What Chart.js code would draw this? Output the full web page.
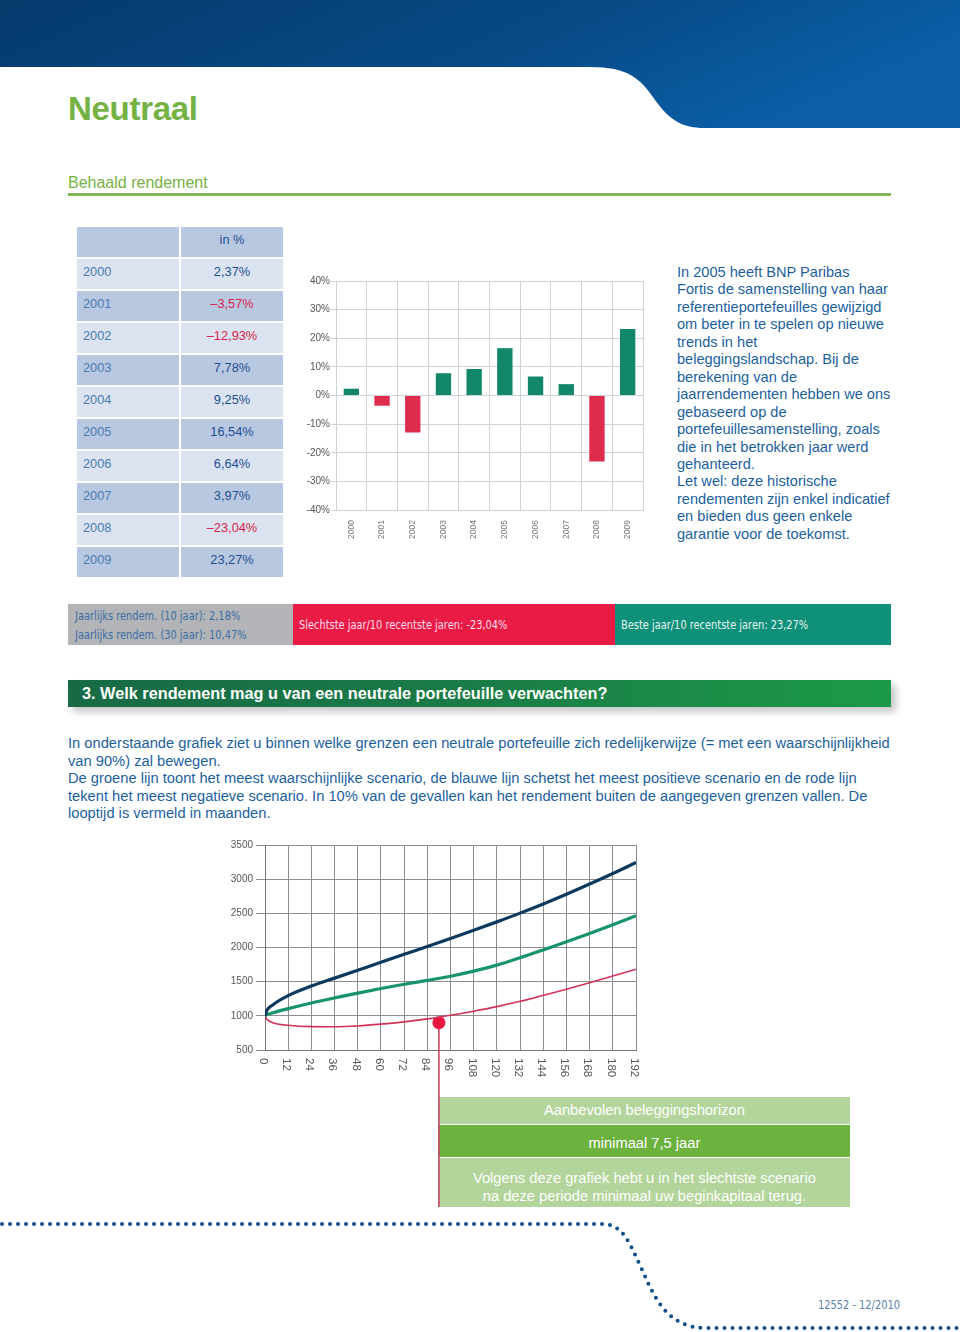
<!DOCTYPE html>
<html lang="nl">
<head>
<meta charset="utf-8">
<title>Neutraal</title>
<script src="https://cdn.jsdelivr.net/npm/chart.js@4/dist/chart.umd.min.js"></script>
<style>
  html, body { margin: 0; padding: 0; background: #fff; }
  body { width: 960px; height: 1332px; position: relative; overflow: hidden; font-family: "Liberation Sans", Arial, Helvetica, sans-serif; }
  .abs { position: absolute; }
  .narrow { font-family: "Liberation Sans Narrow", "DejaVu Sans Condensed", "Liberation Sans", sans-serif; font-stretch: condensed; }
  .sq { display: inline-block; transform: scaleX(0.875); transform-origin: left center; white-space: nowrap; }
  #title { left: 68px; top: 90px; font-size: 33px; font-weight: bold; color: #74b243; letter-spacing: -0.3px; }
  #subtitle { left: 68px; top: 174px; font-size: 16px; color: #74b243; }
  #rule { left: 68px; top: 193px; width: 823px; height: 2.5px; background: #7cb85a; }
  #table { left: 77px; top: 227px; width: 206px; }
  .row { display: flex; height: 30px; margin-bottom: 2px; font-size: 12.8px; }
  .row div { height: 30px; line-height: 25px; }
  .row .y { width: 96px; padding-left: 6px; margin-right: 2px; color: #4a7bb2; }
  .row .v { width: 102px; text-align: center; color: #1c4f91; }
  .row .v.neg { color: #d8234a; }
  .dark div { background: #b9c8e1; }
  .light div { background: #dbe3f0; }
  #barWrap { left: 300px; top: 270px; width: 350px; height: 280px; }
  #note { left: 677px; top: 264px; font-size: 14.6px; line-height: 17.45px; color: #1b5f9e; white-space: nowrap; }
  #stats { left: 68px; top: 604px; height: 41px; display: flex; width: 823px; font-size: 12.5px; }
  #stats > div { height: 41px; box-sizing: border-box; overflow: hidden; }
  #s1 { width: 225px; background: #b2b4b7; color: #3b6ea6; padding: 2px 0 0 7px; line-height: 19px; }
  #s2 { width: 322px; background: #ea1b44; color: #fde; padding-left: 6px; line-height: 41px; }
  #s3 { width: 276px; background: #0e9079; color: #e6f4f0; padding-left: 6px; line-height: 41px; }
  #heading { left: 68px; top: 680px; width: 823px; height: 27px; background: linear-gradient(90deg, #176a45 0%, #1a7c47 50%, #1c9a48 100%); box-shadow: 5px 5px 7px rgba(0,0,0,0.22); color: #fff; font-weight: bold; font-size: 16.3px; line-height: 27px; box-sizing: border-box; padding-left: 14px; }
  #intro { left: 68px; top: 735px; font-size: 14.7px; line-height: 17.5px; color: #1b5f9e; white-space: nowrap; }
  #lineWrap { left: 220px; top: 835px; width: 430px; height: 375px; z-index: 2; }
  #boxes { left: 439px; top: 1097px; width: 411px; color: #fff; font-size: 14.7px; text-align: center; z-index: 1; }
  #boxes .b1 { height: 27px; line-height: 27px; background: #b3d59b; margin-bottom: 1px; }
  #boxes .b2 { height: 32px; line-height: 36px; background: #6cb23f; margin-bottom: 1px; }
  #boxes .b3 { height: 49px; background: #b3d59b; line-height: 17.5px; padding-top: 12px; box-sizing: border-box; }
  #code { left: 818px; top: 1297px; font-size: 12.5px; color: #5a7fa8; }
</style>
</head>
<body>
<svg class="abs" style="left:0;top:0" width="960" height="135" viewBox="0 0 960 135">
  <defs>
    <linearGradient id="hdr" x1="0" y1="0" x2="1" y2="0.3">
      <stop offset="0" stop-color="#053a6c"/>
      <stop offset="0.6" stop-color="#074a86"/>
      <stop offset="1" stop-color="#0a5fa6"/>
    </linearGradient>
  </defs>
  <path d="M0,0 H960 V128 H705 C680,128 668,118 655,100 C640,78 628,67 590,67 H0 Z" fill="url(#hdr)"/>
</svg>
<div id="title" class="abs">Neutraal</div>
<div id="subtitle" class="abs">Behaald rendement</div>
<div id="rule" class="abs"></div>

<div id="table" class="abs"></div>

<div id="barWrap" class="abs"><canvas id="bars" width="350" height="280"></canvas></div>

<div id="note" class="abs">In 2005 heeft BNP Paribas<br>Fortis de samenstelling van haar<br>referentieportefeuilles gewijzigd<br>om beter in te spelen op nieuwe<br>trends in het<br>beleggingslandschap. Bij de<br>berekening van de<br>jaarrendementen hebben we ons<br>gebaseerd op de<br>portefeuillesamenstelling, zoals<br>die in het betrokken jaar werd<br>gehanteerd.<br>Let wel: deze historische<br>rendementen zijn enkel indicatief<br>en bieden dus geen enkele<br>garantie voor de toekomst.</div>

<div id="stats" class="abs narrow">
  <div id="s1"><span class="sq">Jaarlijks rendem. (10 jaar): 2,18%</span><br><span class="sq">Jaarlijks rendem. (30 jaar): 10,47%</span></div>
  <div id="s2"><span class="sq">Slechtste jaar/10 recentste jaren: -23,04%</span></div>
  <div id="s3"><span class="sq">Beste jaar/10 recentste jaren: 23,27%</span></div>
</div>

<div id="heading" class="abs">3. Welk rendement mag u van een neutrale portefeuille verwachten?</div>

<div id="intro" class="abs">In onderstaande grafiek ziet u binnen welke grenzen een neutrale portefeuille zich redelijkerwijze (= met een waarschijnlijkheid<br>van 90%) zal bewegen.<br>De groene lijn toont het meest waarschijnlijke scenario, de blauwe lijn schetst het meest positieve scenario en de rode lijn<br>tekent het meest negatieve scenario. In 10% van de gevallen kan het rendement buiten de aangegeven grenzen vallen. De<br>looptijd is vermeld in maanden.</div>

<div id="lineWrap" class="abs"><canvas id="lines" width="430" height="375"></canvas></div>

<div id="boxes" class="abs">
  <div class="b1">Aanbevolen beleggingshorizon</div>
  <div class="b2">minimaal 7,5 jaar</div>
  <div class="b3">Volgens deze grafiek hebt u in het slechtste scenario<br>na deze periode minimaal uw beginkapitaal terug.</div>
</div>

<svg class="abs" style="left:0;top:1215px" width="960" height="117" viewBox="0 1215 960 117">
  <path d="M2,1224 H602 C622,1224 628,1240 640,1265 C652,1292 662,1318 690,1326 C695,1327.5 700,1328 706,1328 H960" fill="none" stroke="#0d4e8b" stroke-width="4" stroke-linecap="round" stroke-dasharray="0 8"/>
</svg>
<div id="code" class="abs narrow"><span class="sq">12552 - 12/2010</span></div>

<script>
// jaarrendementen (in %)
const years = ['2000', '2001', '2002', '2003', '2004', '2005', '2006', '2007', '2008', '2009'];
const returns = [2.37, -3.57, -12.93, 7.78, 9.25, 16.54, 6.64, 3.97, -23.04, 23.27];
const pctTicks = [-40, -30, -20, -10, 0, 10, 20, 30, 40];

// scenario's, looptijd in maanden
const months = [0, 1, 4, 12, 24, 36, 48, 60, 72, 84, 96, 108, 120, 132, 144, 156, 168, 180, 192];
const bestCase = [1000, 1080, 1160, 1295, 1435, 1552, 1668, 1783, 1900, 2015, 2132, 2252, 2375, 2503, 2638, 2780, 2928, 3082, 3244];
const expected = [1000, 1018, 1045, 1105, 1188, 1262, 1332, 1400, 1462, 1518, 1580, 1655, 1742, 1850, 1965, 2083, 2205, 2332, 2463];
const worstCase = [1000, 950, 900, 862, 842, 840, 852, 878, 912, 955, 1008, 1068, 1135, 1212, 1300, 1390, 1485, 1583, 1683];
const monthTicks = [0, 12, 24, 36, 48, 60, 72, 84, 96, 108, 120, 132, 144, 156, 168, 180, 192];
const valueTicks = [500, 1000, 1500, 2000, 2500, 3000, 3500];
const horizonMonths = 90;
const horizonValue = 900;

const GREEN = '#12876a';
const RED = '#de2c4c';
const tickFont = { family: '"Liberation Sans", Arial, sans-serif', size: 10 };

const fmtPct = (v) => (v < 0 ? '\u2013' : '') + Math.abs(v).toFixed(2).replace('.', ',') + '%';

function buildTable() {
  const t = document.getElementById('table');
  let html = '<div class="row dark"><div class="y"></div><div class="v">in %</div></div>';
  years.forEach((y, i) => {
    const cls = i % 2 === 0 ? 'light' : 'dark';
    const neg = returns[i] < 0 ? ' neg' : '';
    html += `<div class="row ${cls}"><div class="y">${y}</div><div class="v${neg}">${fmtPct(returns[i])}</div></div>`;
  });
  t.innerHTML = html;
}

function buildBars() {
  new Chart(document.getElementById('bars'), {
    type: 'bar',
    data: {
      labels: years,
      datasets: [{
        data: returns,
        backgroundColor: returns.map(v => v < 0 ? RED : GREEN),
        borderWidth: 0,
        categoryPercentage: 1,
        barPercentage: 0.5,
      }]
    },
    options: {
      responsive: false,
      animation: false,
      layout: { padding: { top: 11, right: 7, left: 0, bottom: 0 } },
      plugins: { legend: { display: false }, tooltip: { enabled: false } },
      scales: {
        x: {
          grid: { color: '#cad4da', drawTicks: false, offset: true },
          border: { color: '#cad4da' },
          ticks: { color: '#777', font: { family: tickFont.family, size: 8.5 }, minRotation: 90, maxRotation: 90, padding: 10 },
          afterFit(scale) { scale.height = 40; },
        },
        y: {
          min: -40, max: 40,
          afterBuildTicks(scale) { scale.ticks = pctTicks.map(v => ({ value: v })); },
          grid: { color: '#cad4da', tickLength: 5 },
          border: { color: '#cad4da' },
          ticks: { color: '#555', font: tickFont, padding: 1, callback: v => v + '%' },
          afterFit(scale) { scale.width = 36; },
        }
      }
    }
  });
}

const monthLabels = {
  id: 'monthLabels',
  afterDraw(chart) {
    const { ctx, scales: { x, y } } = chart;
    ctx.save();
    ctx.fillStyle = '#555';
    ctx.font = '11.5px "Liberation Sans", Arial, sans-serif';
    ctx.textAlign = 'left';
    ctx.textBaseline = 'middle';
    monthTicks.forEach(m => {
      ctx.save();
      ctx.translate(x.getPixelForValue(m) - 2, y.bottom + 8);
      ctx.rotate(Math.PI / 2);
      ctx.fillText(String(m), 0, 0);
      ctx.restore();
    });
    ctx.restore();
  }
};

const horizonLine = {
  id: 'horizonLine',
  beforeDatasetsDraw(chart) {
    const { ctx, scales: { x, y } } = chart;
    const px = x.getPixelForValue(horizonMonths);
    ctx.save();
    ctx.strokeStyle = '#c8385a';
    ctx.lineWidth = 1.5;
    ctx.beginPath();
    ctx.moveTo(px, y.getPixelForValue(horizonValue));
    ctx.lineTo(px, chart.height - 3);
    ctx.stroke();
    ctx.restore();
  }
};

function buildLines() {
  const pts = (arr) => months.map((m, i) => ({ x: m, y: arr[i] }));
  const line = (arr, color, width) => ({ data: pts(arr), borderColor: color, borderWidth: width, pointRadius: 0, cubicInterpolationMode: 'monotone' });
  const chart = new Chart(document.getElementById('lines'), {
    type: 'line',
    data: {
      datasets: [
        line(bestCase, '#0c3a5e', 3.2),
        line(expected, '#17936f', 3.2),
        line(worstCase, '#d2325a', 1.6),
        { type: 'scatter', data: [{ x: horizonMonths, y: horizonValue }], pointRadius: 6.5, pointBackgroundColor: '#e8173f', pointBorderWidth: 0 },
      ]
    },
    options: {
      responsive: false,
      animation: false,
      layout: { padding: { top: 10, right: 14, left: 0, bottom: 125 } },
      plugins: { legend: { display: false }, tooltip: { enabled: false } },
      scales: {
        x: {
          type: 'linear', min: 0, max: 192,
          afterBuildTicks(scale) { scale.ticks = monthTicks.map(v => ({ value: v })); },
          grid: { color: '#8d8d8d', drawTicks: false },
          border: { color: '#777' },
          ticks: { display: false },
          afterFit(scale) { scale.height = 35; },
        },
        y: {
          min: 500, max: 3500,
          afterBuildTicks(scale) { scale.ticks = valueTicks.map(v => ({ value: v })); },
          ticks: { color: '#555', font: tickFont, padding: 3, callback: v => String(v) },
          grid: { color: '#8d8d8d', tickLength: 9 },
          border: { color: '#777' },
          afterFit(scale) { scale.width = 45; },
        }
      }
    },
    plugins: [monthLabels, horizonLine]
  });
  // boxes hang from the horizon line
  const px = chart.scales.x.getPixelForValue(horizonMonths);
  document.getElementById('boxes').style.left = (220 + px) + 'px';
}

buildTable();
buildBars();
buildLines();
</script>
</body>
</html>
